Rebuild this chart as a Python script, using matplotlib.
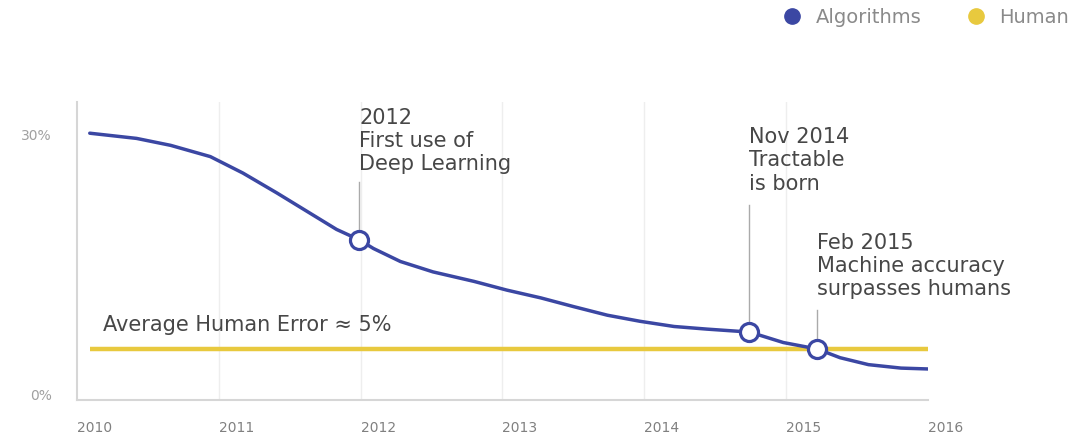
import matplotlib
matplotlib.use("Agg")
import matplotlib.pyplot as plt
from matplotlib.lines import Line2D

# ---- data ----
years = [2010.09, 2010.42, 2010.66, 2010.94, 2011.17, 2011.41, 2011.64, 2011.83,
         2011.99, 2012.09, 2012.28, 2012.51, 2012.80, 2013.03, 2013.27, 2013.50,
         2013.74, 2013.97, 2014.21, 2014.44, 2014.66, 2014.74, 2014.98, 2015.22,
         2015.38, 2015.58, 2015.81, 2016.0]
algo_error = [30.2, 29.6, 28.8, 27.5, 25.6, 23.3, 21.0, 19.1,
              17.9, 16.9, 15.4, 14.2, 13.1, 12.1, 11.2, 10.2,
              9.2, 8.5, 7.9, 7.6, 7.35, 7.27, 6.05, 5.3,
              4.3, 3.5, 3.1, 3.0]
human_x = [2010.09, 2016.0]
human_error = [5.3, 5.3]

event_x = [2011.99, 2014.74, 2015.22]
event_y = [17.9, 7.27, 5.3]
event_labels = ["2012\nFirst use of\nDeep Learning",
                "Nov 2014\nTractable\nis born",
                "Feb 2015\nMachine accuracy\nsurpasses humans"]
event_text_y = [33.1, 30.9, 18.7]
event_line_top = [24.6, 21.9, 9.8]

xticks = [2010, 2011, 2012, 2013, 2014, 2015, 2016]
xtick_labels = ["2010", "2011", "2012", "2013", "2014", "2015", "2016"]
yticks = [0, 30]
ytick_labels = ["0%", "30%"]

BLUE = "#3b47a3"
YELLOW = "#e8c93e"
TEXT = "#474747"
FONT = "DejaVu Sans"

fig = plt.figure(figsize=(10.73, 4.33), dpi=100)
ax = fig.add_axes([77 / 1073, 1 - 400 / 433, (928 - 77) / 1073, (400 - 102) / 433])

ax.set_xlim(2010, 2016)
ax.set_ylim(-0.58, 33.8)

for x in xticks[1:-1]:
    ax.axvline(x, color="#eeeeee", lw=1, zorder=0)

ax.plot(human_x, human_error, color=YELLOW, lw=3.2, solid_capstyle="butt", zorder=2)
ax.plot(years, algo_error, color=BLUE, lw=2.5, zorder=3,
        solid_joinstyle="round", solid_capstyle="round")

for ex, ey, lab, ty, lt in zip(event_x, event_y, event_labels, event_text_y, event_line_top):
    ax.plot([ex, ex], [ey, lt], color="#aaaaaa", lw=1, zorder=1)
    ax.text(ex, ty, lab, ha="left", va="top", fontsize=15, color=TEXT,
            family=FONT, linespacing=1.2, zorder=5)

ax.plot(event_x, event_y, "o", ms=13, mfc="white", mec=BLUE, mew=2.3, zorder=4)

ax.text(2010.18, 8.08, "Average Human Error \u2248 5%", ha="left", va="center",
        fontsize=15, color=TEXT, family=FONT)

for s in ["top", "right"]:
    ax.spines[s].set_visible(False)
for s in ["left", "bottom"]:
    ax.spines[s].set_color("#d6d6d6")
    ax.spines[s].set_linewidth(1.5)

ax.set_xticks(xticks)
ax.set_xticklabels(xtick_labels, ha="left", fontsize=10, color="#808080", family=FONT)
ax.set_yticks(yticks)
ax.set_yticklabels(ytick_labels, fontsize=10, color="#a0a0a0", family=FONT)
ax.tick_params(axis="x", length=0, pad=15)
ax.tick_params(axis="y", length=0, pad=18)

handles = [Line2D([], [], marker="o", ls="", ms=11, color=BLUE),
           Line2D([], [], marker="o", ls="", ms=11, color=YELLOW)]
fig.legend(handles, ["Algorithms", "Human"], loc="upper right",
           bbox_to_anchor=(1069 / 1073, 1 - 8 / 433), ncol=2, frameon=False,
           borderpad=0, borderaxespad=0,
           prop={"family": FONT, "size": 14}, labelcolor="#8a8a8a",
           handlelength=1.0, handletextpad=0.7, columnspacing=2.3)

fig.savefig("out.png", dpi=100)
